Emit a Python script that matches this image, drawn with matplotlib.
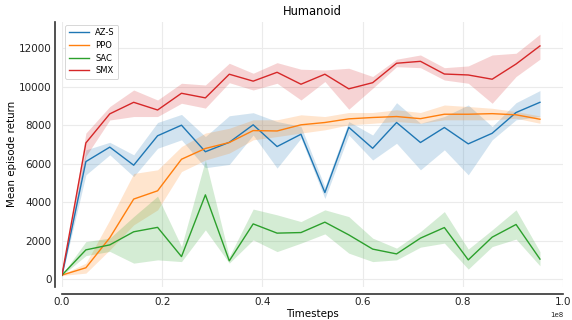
import matplotlib
matplotlib.use("Agg")
import matplotlib.pyplot as plt
import numpy as np

timesteps = [0.0, 0.0477e8, 0.0954e8, 0.1431e8, 0.1908e8, 0.2385e8, 0.2862e8,
             0.3339e8, 0.3816e8, 0.4293e8, 0.4770e8, 0.5247e8, 0.5724e8,
             0.6201e8, 0.6678e8, 0.7155e8, 0.7632e8, 0.8109e8, 0.8586e8,
             0.9063e8, 0.9540e8]

azs_mean = [200, 6120, 6870, 5930, 7460, 8010, 6630, 7120, 8030, 6900, 7540,
            4510, 7900, 6810, 8150, 7110, 7890, 7040, 7590, 8670, 9200]
azs_hi = [220, 6730, 7120, 6470, 8150, 8570, 7420, 8500, 8660, 8200, 7950,
          4800, 8200, 7500, 9180, 8110, 8460, 9060, 7940, 9180, 9810]
azs_lo = [180, 5430, 6470, 5340, 6810, 7250, 5800, 5970, 7500, 5780, 7330,
          4200, 7500, 6200, 7070, 5690, 6730, 5430, 7250, 8290, 8460]

ppo_mean = [220, 600, 2160, 4170, 4600, 6240, 6800, 7110, 7730, 7710, 8030,
            8150, 8340, 8410, 8460, 8350, 8580, 8580, 8610, 8550, 8320]
ppo_hi = [250, 840, 3090, 5500, 5690, 6900, 7600, 7850, 8290, 8290, 8550,
          8460, 8670, 8670, 8810, 8670, 9060, 8980, 8890, 8720, 8490]
ppo_lo = [200, 320, 1530, 2830, 3610, 5600, 6200, 6560, 7250, 7420, 7600,
          7770, 8030, 8110, 8200, 8110, 8290, 8290, 8290, 8370, 8110]

sac_mean = [220, 1530, 1790, 2470, 2700, 1180, 4390, 960, 2880, 2400, 2430,
            2970, 2310, 1570, 1320, 2140, 2690, 1010, 2190, 2850, 1050]
sac_hi = [250, 1960, 2140, 3260, 4320, 1700, 6200, 1180, 3650, 3350, 3000,
          3610, 3260, 2140, 1620, 2480, 3520, 1570, 2570, 3610, 1440]
sac_lo = [200, 1230, 1450, 840, 1010, 920, 2570, 840, 2050, 1440, 1880,
          2360, 1360, 920, 1010, 1670, 1880, 530, 1700, 2090, 700]

smx_mean = [230, 7090, 8600, 9200, 8800, 9670, 9430, 10660, 10300, 10760,
            10140, 10660, 9900, 10220, 11230, 11330, 10670, 10620, 10400,
            11190, 12130]
smx_hi = [250, 7600, 8980, 9840, 9320, 10190, 10100, 11230, 10710, 11260,
          10920, 10880, 10970, 10540, 11440, 11660, 11000, 11090, 11660,
          11750, 12740]
smx_lo = [200, 6400, 8280, 8460, 8460, 9150, 8900, 10220, 9840, 10190,
          9320, 10280, 8840, 9930, 11050, 11000, 10360, 10190, 9150, 10540,
          11440]

labels = ["AZ-S", "PPO", "SAC", "SMX"]
colors = ["#1f77b4", "#ff7f0e", "#2ca02c", "#d62728"]
series = [(azs_mean, azs_lo, azs_hi), (ppo_mean, ppo_lo, ppo_hi),
          (sac_mean, sac_lo, sac_hi), (smx_mean, smx_lo, smx_hi)]

plt.rcParams['font.family'] = ['DejaVu Sans']
fig = plt.figure(figsize=(5.72, 3.2), dpi=100)
ax = fig.add_axes([62/572, 1-287/320, (563-62)/572, (287-21.5)/320])

for (m, lo, hi), lab, c in zip(series, labels, colors):
    ax.fill_between(timesteps, lo, hi, color=c, alpha=0.2, linewidth=0)
    ax.plot(timesteps, m, color=c, lw=1.0, label=lab)

ax.set_xlim(0, 1.0e8)
ax.set_ylim(-400, 13400)
ax.set_yticks([0, 2000, 4000, 6000, 8000, 10000, 12000])
ax.set_xticks([0, 0.2e8, 0.4e8, 0.6e8, 0.8e8, 1.0e8])
ax.grid(True, color='#ebebeb', lw=0.8)
ax.set_axisbelow(True)
for s in ['top', 'right']:
    ax.spines[s].set_visible(False)
for s in ['left', 'bottom']:
    ax.spines[s].set_position(('outward', 5))
    ax.spines[s].set_color('#333333')
    ax.spines[s].set_linewidth(1.2)
ax.tick_params(axis='both', length=0, pad=2.5, labelsize=7.5, colors='#222222')
ax.xaxis.get_offset_text().set_fontsize(5)
ax.set_xlabel("Timesteps", fontsize=7.4, labelpad=1)
ax.set_ylabel("Mean episode return", fontsize=7.4, labelpad=1.5)
ax.set_title("Humanoid", fontsize=8.3, pad=5)
leg = ax.legend(loc='upper left', fontsize=6, handlelength=2.4,
                labelspacing=0.45, borderaxespad=0.4, framealpha=0.9,
                edgecolor='#cccccc', fancybox=True)
leg.get_frame().set_linewidth(0.6)

fig.savefig("out.png", dpi=100)
